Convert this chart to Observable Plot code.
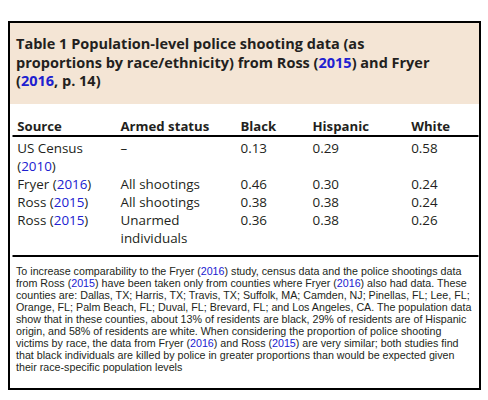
<!DOCTYPE html>
<html><head><meta charset="utf-8">
<script src="https://cdn.jsdelivr.net/npm/d3@7"></script>
<script src="https://cdn.jsdelivr.net/npm/@observablehq/plot@0.6"></script>
<style>
html,body{margin:0;padding:0;background:#fff;width:488px;height:400px;overflow:hidden;}
#box{position:absolute;left:8px;top:21px;width:469px;height:365px;border:2px solid #000;background:#fff;color:#231f20;font-family:"Open Sans",sans-serif;}
#title{position:absolute;left:0;top:0;width:469px;height:81px;background:#f4e5d5;}
#title .in{position:absolute;left:6px;white-space:nowrap;font-weight:bold;font-size:14.5px;line-height:18.5px;top:12.1px;}
#table{position:absolute;left:0;top:81px;}
#note{position:absolute;left:6px;top:241.7px;white-space:nowrap;font-family:"Liberation Sans",Arial,sans-serif;font-size:10.7px;line-height:12px;}
#note div{height:12px;}
.yr{color:#2020d0;fill:#2020d0;}
</style></head>
<body>
<div id="box"><div id="title"><div class="in"></div></div><div id="table"></div><div id="note"></div></div>
<script>
// ---- data ----
const titleLines = [
  "Table 1 Population-level police shooting data (as",
  "proportions by race/ethnicity) from Ross (2015) and Fryer",
  "(2016, p. 14)"
];
const columns = ["Source", "Armed status", "Black", "Hispanic", "White"];
const sourceLines = [["US Census", "(2010)"], ["Fryer (2016)"], ["Ross (2015)"], ["Ross (2015)"]];
const armedLines = [["–"], ["All shootings"], ["All shootings"], ["Unarmed", "individuals"]];
const black = [0.13, 0.46, 0.38, 0.36];
const hispanic = [0.29, 0.30, 0.38, 0.38];
const white = [0.58, 0.24, 0.24, 0.26];
const noteLines = [
  "To increase comparability to the Fryer (2016) study, census data and the police shootings data",
  "from Ross (2015) have been taken only from counties where Fryer (2016) also had data. These",
  "counties are: Dallas, TX; Harris, TX; Travis, TX; Suffolk, MA; Camden, NJ; Pinellas, FL; Lee, FL;",
  "Orange, FL; Palm Beach, FL; Duval, FL; Brevard, FL; and Los Angeles, CA. The population data",
  "show that in these counties, about 13% of residents are black, 29% of residents are of Hispanic",
  "origin, and 58% of residents are white. When considering the proportion of police shooting",
  "victims by race, the data from Fryer (2016) and Ross (2015) are very similar; both studies find",
  "that black individuals are killed by police in greater proportions than would be expected given",
  "their race-specific population levels"
];

// ---- layout (not data) ----
const colPos = [0.8, 23.06, 48.92, 64.44, 85.71]; // percent of table width

const yearRe = /(20(?:10|15|16))/g;
const esc = s => s.replace(/&/g, "&amp;").replace(/</g, "&lt;");
const mark = s => esc(s).replace(yearRe, '<tspan class="yr">$1</tspan>');
const markHtml = s => esc(s).replace(yearRe, '<span class="yr">$1</span>');

document.querySelector("#title .in").innerHTML = titleLines.map(markHtml).join("<br>");
document.querySelector("#note").innerHTML = noteLines.map(l => "<div>" + markHtml(l) + "</div>").join("");

// flatten table cells into text lines
const cells = [];
let line = 0;
sourceLines.forEach((src, i) => {
  const rowCells = [src, armedLines[i], [black[i].toFixed(2)], [hispanic[i].toFixed(2)], [white[i].toFixed(2)]];
  rowCells.forEach((ls, c) => ls.forEach((t, k) => cells.push({col: c, line: line + k, text: t})));
  line += Math.max(...rowCells.map(ls => ls.length));
});
const header = columns.map((name, c) => ({col: c, text: name}));

const colorYears = (index, scales, values, dims, ctx, next) => {
  const g = next(index, scales, values, dims, ctx);
  d3.select(g).selectAll("text").each(function () {
    const t = this.textContent;
    if (yearRe.test(t)) this.innerHTML = mark(t);
    yearRe.lastIndex = 0;
  });
  return g;
};

const chart = Plot.plot({
  width: 469,
  height: 158,
  marginTop: 31.5,
  marginBottom: 6.5,
  marginLeft: 3,
  marginRight: 2,
  style: {fontFamily: "'Open Sans', sans-serif", fontSize: "13px", color: "#231f20", background: "transparent"},
  x: {domain: [0, 100], axis: null},
  y: {domain: [0, line - 1], range: [48, 138], axis: null},
  marks: [
    Plot.frame({anchor: "top", stroke: "#000", strokeWidth: 2}),
    Plot.frame({anchor: "bottom", stroke: "#000", strokeWidth: 2}),
    Plot.text(header, {x: d => colPos[d.col], frameAnchor: "top", dy: -5.5, lineAnchor: "bottom", textAnchor: "start",
      text: "text", fontWeight: "bold", fontSize: 13.2, fill: "#231f20"}),
    Plot.text(cells, {x: d => colPos[d.col], y: "line", lineAnchor: "bottom", textAnchor: "start",
      text: "text", fontSize: 13.4, fill: "#231f20", render: colorYears})
  ]
});
document.getElementById("table").appendChild(chart);
</script>
</body></html>
